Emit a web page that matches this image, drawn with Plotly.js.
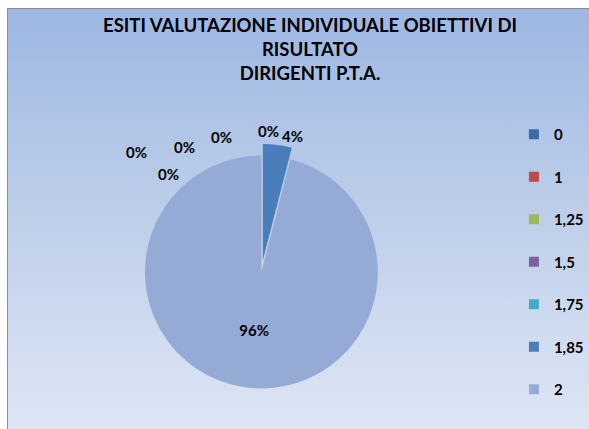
<!DOCTYPE html>
<html>
<head>
<meta charset="utf-8">
<script src="https://cdn.plot.ly/plotly-3.0.1.min.js"></script>
<style>
  html, body { margin: 0; padding: 0; background: #ffffff; }
  #wrap { position: relative; width: 589px; height: 429px; overflow: hidden; background: #ffffff; }
  #bg { position: absolute; left: 7px; top: 8px; width: 590px; height: 430px;
        border-left: 1px solid #8c8c8c; border-top: 1px solid #8c8c8c;
        background: linear-gradient(to bottom, #9db7e3 0%, #bccde9 45%, #dfe7f5 100%); }
  #chart { position: absolute; left: 0; top: 0; width: 589px; height: 429px; }
</style>
</head>
<body>
<div id="wrap">
  <div id="bg"></div>
  <div id="chart"></div>
</div>
<script>
// Data
var categories = ["0", "1", "1,25", "1,5", "1,75", "1,85", "2"];
var values = [0, 0, 0, 0, 0, 1, 24];
var sliceColors = ["#3c6aa5", "#be4b48", "#98b954", "#7d60a0", "#46aac5", "#4a7ebb", "#95abd5"];
var pulls = [0, 0, 0, 0, 0, 0.1, 0];
var zeroLabels = ["0%", "0%", "0%", "0%", "0%"];
var titleText = "ESITI VALUTAZIONE INDIVIDUALE OBIETTIVI DI<br>RISULTATO<br>DIRIGENTI P.T.A.";

var FONT = "Lato, 'Open Sans', 'Liberation Sans', sans-serif";
var W = 589, H = 429;

// pie geometry (pixels)
var cx = 265, cy = 272, R = 118;
var half = R * 1.1;

var textPositions = values.map(function (v, i) {
  if (v === 0) return "none";
  return (i === values.length - 1) ? "inside" : "outside";
});

var pie = {
  type: "pie",
  labels: categories,
  values: values,
  sort: false,
  direction: "clockwise",
  rotation: 0,
  pull: pulls,
  marker: { colors: sliceColors, line: { width: 0 } },
  textinfo: "percent",
  texttemplate: "%{percent:.0%}",
  textposition: textPositions,
  textfont: { family: FONT, size: 15, color: "#000000", weight: "bold" },
  insidetextorientation: "horizontal",
  domain: { x: [(cx - half) / W, (cx + half) / W], y: [1 - (cy + half) / H, 1 - (cy - half) / H] },
  automargin: false,
  showlegend: false
};

// legend entries (one group per category so the gap can be set)
var legendTraces = categories.map(function (c, i) {
  return {
    type: "scatter", mode: "markers",
    x: [null], y: [null],
    name: c, legendgroup: "g" + i,
    marker: { symbol: "square", size: 10, color: sliceColors[i], line: { width: 0 } },
    showlegend: true, hoverinfo: "skip"
  };
});

// positions for the labels of the empty slices (pixels)
var zeroPos = [[138, 152], [187, 147], [225, 137], [272, 131], [171, 174]];
var annotations = zeroLabels.map(function (t, i) {
  return {
    text: "<b>" + t + "</b>", showarrow: false,
    xref: "paper", yref: "paper",
    x: zeroPos[i][0] / W, y: 1 - zeroPos[i][1] / H,
    xanchor: "center", yanchor: "middle",
    font: { family: FONT, size: 15, color: "#000000" }
  };
});

var layout = {
  width: W, height: H,
  margin: { l: 0, r: 0, t: 0, b: 0 },
  paper_bgcolor: "rgba(0,0,0,0)",
  plot_bgcolor: "rgba(0,0,0,0)",
  xaxis: { visible: false, domain: [0, 0.01] },
  yaxis: { visible: false, domain: [0, 0.01] },
  title: {
    text: titleText,
    font: { family: FONT, size: 18.5, color: "#000000", weight: "bold" },
    xref: "container", yref: "container",
    x: 310 / W, xanchor: "center",
    y: 1 - 32 / H, yanchor: "top"
  },
  legend: {
    x: 521 / W, xanchor: "left",
    y: 1 - 118 / H, yanchor: "top",
    traceorder: "grouped",
    tracegroupgap: 20,
    bgcolor: "rgba(0,0,0,0)",
    font: { family: FONT, size: 15, color: "#000000", weight: "bold" }
  },
  annotations: annotations,
  showlegend: true
};

Plotly.newPlot("chart", [pie].concat(legendTraces), layout, { displayModeBar: false, staticPlot: true });
</script>
</body>
</html>
